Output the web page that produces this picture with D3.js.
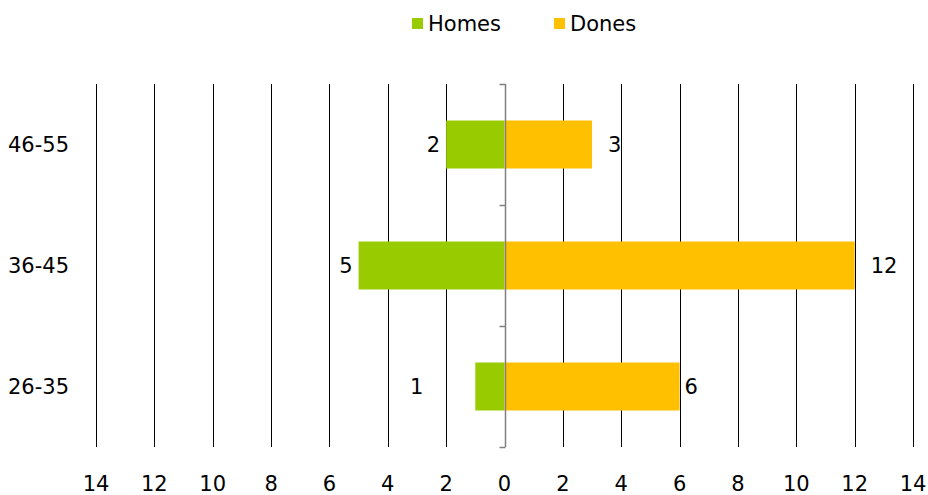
<!DOCTYPE html>
<html>
<head>
<meta charset="utf-8">
<title>Homes i Dones</title>
<script src="https://d3js.org/d3.v7.min.js"></script>
<style>
body { margin: 0; background: #fff; }
text { font-family: "DejaVu Sans", Verdana, sans-serif; fill: #000; }
</style>
</head>
<body>
<div class="chart"></div>
<script>
// data
var ageGroups = ["46-55", "36-45", "26-35"];
var homes = [2, 5, 1];
var dones = [3, 12, 6];
var tickValues = [-14, -12, -10, -8, -6, -4, -2, 0, 2, 4, 6, 8, 10, 12, 14];

var W = 928, H = 495;
var green = "#99cc00", orange = "#ffc000";
var fs = "21px";

var svg = d3.select(".chart").append("svg")
    .attr("width", W)
    .attr("height", H);

var x = d3.scaleLinear().domain([-14, 14]).range([96, 913]);
var y = d3.scaleBand().domain(ageGroups).range([84, 447]).paddingInner(0).paddingOuter(0);
var barH = 48;

// vertical gridlines (not at zero)
svg.append("g").selectAll("line")
  .data(tickValues.filter(function(d) { return d !== 0; }))
  .enter().append("line")
    .attr("x1", function(d) { return Math.round(x(d)) + 0.5; })
    .attr("x2", function(d) { return Math.round(x(d)) + 0.5; })
    .attr("y1", 84)
    .attr("y2", 447)
    .attr("stroke", "#000")
    .attr("stroke-width", 1);

// bars
var rows = ageGroups.map(function(g, i) { return {g: g, h: homes[i], d: dones[i]}; });

svg.append("g").selectAll("rect.homes")
  .data(rows)
  .enter().append("rect")
    .attr("class", "homes")
    .attr("x", function(d) { return x(-d.h); })
    .attr("width", function(d) { return x(0) - x(-d.h); })
    .attr("y", function(d) { return y(d.g) + (y.bandwidth() - barH) / 2; })
    .attr("height", barH)
    .attr("fill", green);

svg.append("g").selectAll("rect.dones")
  .data(rows)
  .enter().append("rect")
    .attr("class", "dones")
    .attr("x", x(0))
    .attr("width", function(d) { return x(d.d) - x(0); })
    .attr("y", function(d) { return y(d.g) + (y.bandwidth() - barH) / 2; })
    .attr("height", barH)
    .attr("fill", orange);

// zero axis with category ticks
var zx = Math.round(x(0)) + 0.5;
svg.append("line")
    .attr("x1", zx).attr("x2", zx)
    .attr("y1", 84).attr("y2", 447)
    .attr("stroke", "#808080").attr("stroke-width", 1.5);
svg.append("g").selectAll("line")
  .data([84, 84 + y.bandwidth(), 84 + 2 * y.bandwidth(), 447])
  .enter().append("line")
    .attr("x1", zx - 6).attr("x2", zx)
    .attr("y1", function(d) { return Math.round(d) + 0.5; })
    .attr("y2", function(d) { return Math.round(d) + 0.5; })
    .attr("stroke", "#808080").attr("stroke-width", 1.5);

// x tick labels (absolute values)
svg.append("g").selectAll("text")
  .data(tickValues)
  .enter().append("text")
    .attr("x", function(d) { return x(d); })
    .attr("y", 491)
    .attr("text-anchor", "middle")
    .style("font-size", fs)
    .text(function(d) { return Math.abs(d); });

// category labels
svg.append("g").selectAll("text")
  .data(ageGroups)
  .enter().append("text")
    .attr("x", 8)
    .attr("y", function(d) { return y(d) + y.bandwidth() / 2 + 7.5; })
    .style("font-size", fs)
    .text(function(d) { return d; });

// value labels
var homesNudge = {"26-35": -46};
var donesNudge = {"26-35": -11};
svg.append("g").selectAll("text")
  .data(rows)
  .enter().append("text")
    .attr("x", function(d) { return x(-d.h) - 6 + (homesNudge[d.g] || 0); })
    .attr("y", function(d) { return y(d.g) + y.bandwidth() / 2 + 7.5; })
    .attr("text-anchor", "end")
    .style("font-size", fs)
    .text(function(d) { return d.h; });
svg.append("g").selectAll("text")
  .data(rows)
  .enter().append("text")
    .attr("x", function(d) { return x(d.d) + 16 + (donesNudge[d.g] || 0); })
    .attr("y", function(d) { return y(d.g) + y.bandwidth() / 2 + 7.5; })
    .style("font-size", fs)
    .text(function(d) { return d.d; });

// legend
var legend = svg.append("g");
var items = [{name: "Homes", color: green, x: 412}, {name: "Dones", color: orange, x: 554}];
items.forEach(function(it) {
  legend.append("rect").attr("x", it.x).attr("y", 18).attr("width", 11).attr("height", 11).attr("fill", it.color);
  legend.append("text").attr("x", it.x + 16).attr("y", 31).style("font-size", fs).text(it.name);
});
</script>
</body>
</html>
